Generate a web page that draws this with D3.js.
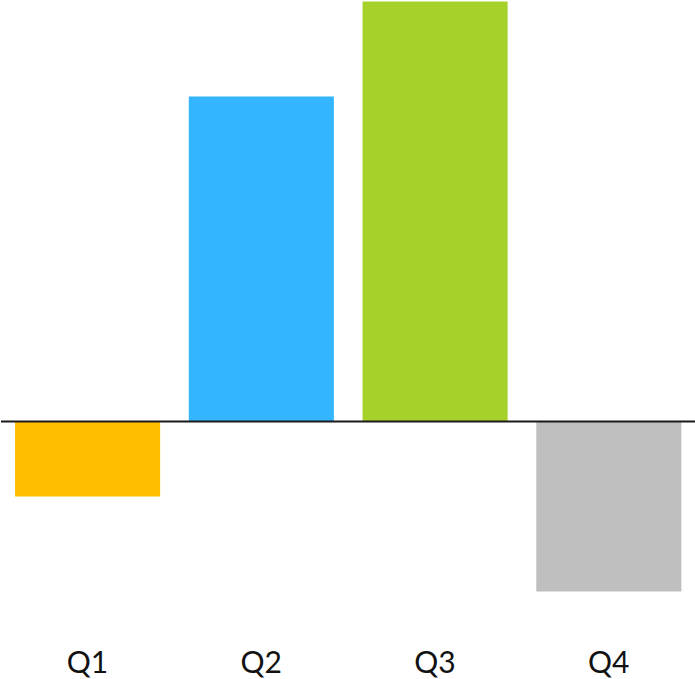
<!DOCTYPE html>
<html>
<head>
<meta charset="utf-8">
<script src="https://cdn.jsdelivr.net/npm/d3@7"></script>
<style>
  html, body { margin: 0; padding: 0; background: #fff; }
</style>
</head>
<body>
<div id="chart"></div>
<script>
const quarters = ["Q1", "Q2", "Q3", "Q4"];
const values = [-15, 65, 84, -34];
const barColors = ["#FFBF00", "#33B5FF", "#A6D12A", "#BFBFBF"];

const width = 695, height = 679;

const svg = d3.select("#chart").append("svg")
  .attr("width", width).attr("height", height);

const x = d3.scaleBand().domain(quarters).range([0.7, width + 0.7])
  .paddingInner(0.165).paddingOuter(0.0825);
const y = d3.scaleLinear().domain([-34, 84]).range([591.5, 1.5]);

svg.selectAll("rect").data(quarters).enter().append("rect")
  .attr("x", d => x(d))
  .attr("width", x.bandwidth())
  .attr("y", (d, i) => y(Math.max(0, values[i])))
  .attr("height", (d, i) => Math.abs(y(values[i]) - y(0)))
  .attr("fill", (d, i) => barColors[i]);

// zero line
svg.append("line")
  .attr("x1", 1).attr("x2", width)
  .attr("y1", y(0)).attr("y2", y(0))
  .attr("stroke", "#1a1a1a").attr("stroke-width", 2);

svg.selectAll("text.lbl").data(quarters).enter().append("text")
  .attr("class", "lbl")
  .attr("x", d => x(d) + x.bandwidth() / 2)
  .attr("y", 673)
  .attr("text-anchor", "middle")
  .style("font-family", "Lato, 'Noto Sans', sans-serif")
  .style("font-size", "30px")
  .attr("fill", "#111")
  .text(d => d);
</script>
</body>
</html>
